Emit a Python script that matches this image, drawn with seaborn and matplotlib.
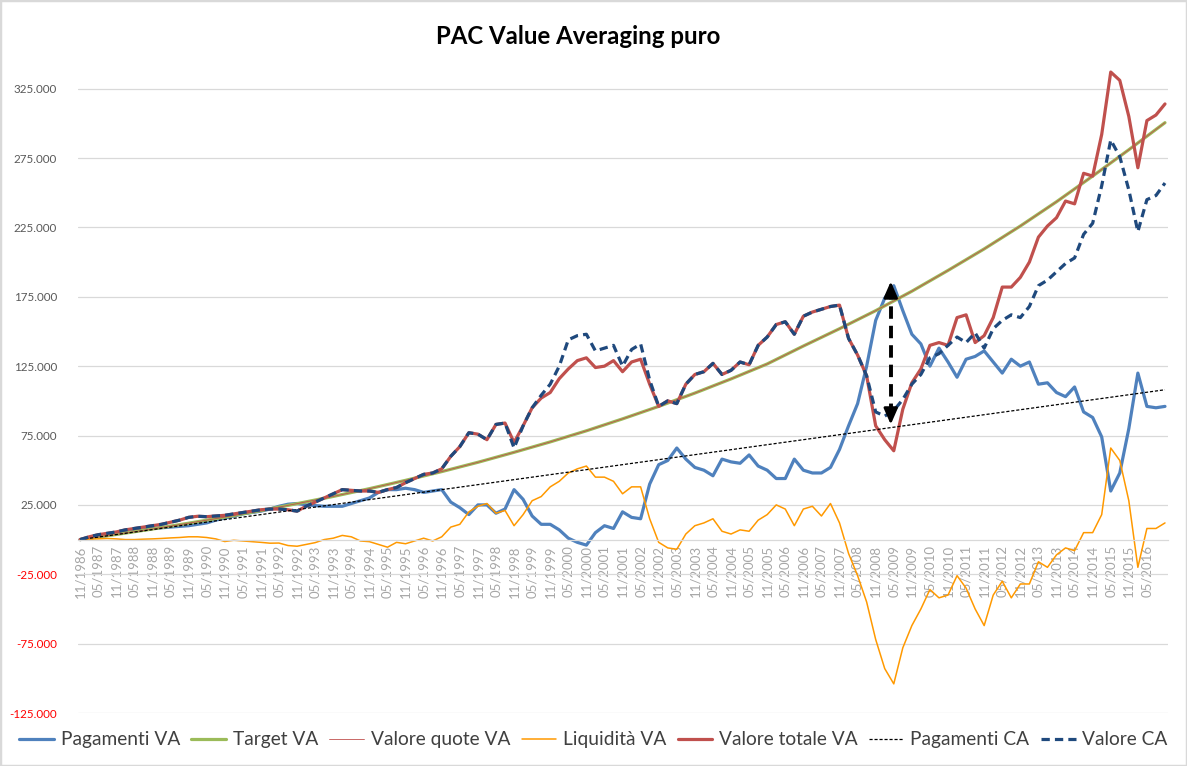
import numpy as np
import pandas as pd
import seaborn as sns
import matplotlib.pyplot as plt
from matplotlib.patches import Rectangle

# valori in migliaia di euro, un punto ogni 3 mesi a partire da 11/1986 (mese 0)
mesi = list(range(0, 361, 3))
# serie lisce: un punto all'anno
mesi_annuali = list(range(0, 361, 12))

pagamenti_va = [0, 1.0, 2.0, 3.0, 4.0, 5.0, 6.0, 7.0, 8.0, 8.5,
                9.0, 9.5, 10.0, 11.0, 12.0, 14.0, 15.5, 17.0, 18.5, 19.5,
                20.5, 22.0, 24.0, 25.5, 26.0, 25.0, 24.5, 24.0, 24.0, 24.0,
                26.0, 28.0, 30.0, 34.0, 36.0, 36.0, 37.0, 36.0, 34.0, 35.0,
                36.0, 27.0, 23.0, 18.0, 25.0, 25.0, 19.0, 22.0, 36.0, 29.0,
                17.0, 11.0, 11.0, 7.0, 1.0, -2.0, -4.0, 5.0, 10.0, 8.0,
                20.0, 16.0, 15.0, 40.0, 54.0, 57.0, 66.0, 58.0, 52.0, 50.0,
                46.0, 58.0, 56.0, 55.0, 61.0, 53.0, 50.0, 44.0, 44.0, 58.0,
                50.0, 48.0, 48.0, 52.0, 65.0, 82.0, 98.0, 125.0, 158.0, 174.0,
                183.0, 165.0, 148.0, 141.0, 125.0, 138.0, 128.0, 117.0, 130.0, 132.0,
                136.0, 128.0, 120.0, 130.0, 125.0, 128.0, 112.0, 113.0, 106.0, 103.0,
                110.0, 92.0, 88.0, 74.0, 35.0, 48.0, 80.0, 120.0, 96.0, 95.0,
                96.0]

liquidita_va = [0, 0.3, 0.5, 0.8, 0.5, 0, 0, 0.3, 0.5, 0.8,
                1.2, 1.5, 2.0, 2.0, 1.5, 0.5, -1.4, -0.5, -1.0, -1.5,
                -2.0, -2.6, -2.5, -4.3, -4.8, -3.5, -2.2, 0, 1.0, 3.0,
                2.0, -1.0, -1.5, -3.5, -5.5, -2.0, -3.0, -1.0, 1.0, -1.0,
                2.0, 9.0, 11.0, 20.0, 24.0, 26.0, 19.0, 21.0, 10.0, 18.0,
                28.0, 31.0, 38.0, 42.0, 48.0, 51.0, 53.0, 45.0, 45.0, 42.0,
                33.0, 38.0, 38.0, 15.0, -2.0, -6.0, -7.0, 4.0, 10.0, 12.0,
                15.0, 6.0, 4.0, 7.0, 6.0, 14.0, 18.0, 25.0, 22.0, 10.0,
                22.0, 24.0, 17.0, 26.0, 12.0, -10.0, -26.0, -45.0, -72.0, -93.0,
                -104.0, -78.0, -62.0, -50.0, -36.0, -42.0, -40.0, -26.0, -35.0, -50.0,
                -62.0, -40.0, -30.0, -42.0, -32.0, -32.0, -16.0, -20.0, -11.0, -6.0,
                -8.0, 5.0, 5.0, 18.0, 66.0, 57.0, 28.0, -20.0, 8.0, 8.0,
                12.0]

valore_totale_va = [0, 2.0, 3.5, 4.5, 5.5, 7.0, 8.0, 9.0, 10.0, 11.0,
                    12.5, 14.0, 16.0, 16.8, 16.5, 17.0, 17.5, 18.5, 19.5, 20.5,
                    21.5, 22.0, 22.0, 21.5, 20.5, 24.0, 27.0, 30.0, 33.0, 36.0,
                    35.5, 35.0, 35.0, 34.0, 36.0, 37.5, 41.0, 44.0, 47.0, 48.0,
                    51.0, 60.0, 67.0, 77.0, 76.0, 72.0, 83.0, 84.0, 70.0, 82.0,
                    95.0, 102.0, 106.0, 116.0, 123.0, 129.0, 131.0, 124.0, 125.0, 129.0,
                    121.0, 128.0, 130.0, 112.0, 96.0, 100.0, 98.0, 112.0, 119.0, 121.0,
                    127.0, 119.0, 122.0, 128.0, 126.0, 140.0, 146.0, 155.0, 157.0, 148.0,
                    161.0, 164.0, 166.0, 168.0, 169.0, 145.0, 133.0, 118.0, 82.0, 72.0,
                    64.0, 94.0, 113.0, 123.0, 140.0, 142.0, 140.0, 160.0, 162.0, 142.0,
                    147.0, 160.0, 182.0, 182.0, 189.0, 200.0, 218.0, 226.0, 232.0, 244.0,
                    242.0, 264.0, 262.0, 292.0, 337.0, 331.0, 305.0, 268.0, 302.0, 306.0,
                    314.0]

valore_ca = [0, 2.0, 3.5, 4.5, 5.5, 7.0, 8.0, 9.0, 10.0, 11.0,
             12.5, 14.0, 16.0, 16.8, 16.5, 17.0, 17.5, 18.5, 19.5, 20.5,
             21.5, 22.0, 22.0, 21.5, 20.5, 24.0, 27.0, 30.0, 33.0, 36.0,
             35.5, 35.0, 35.0, 34.0, 36.0, 37.5, 41.0, 44.0, 47.0, 48.0,
             51.0, 60.0, 67.0, 77.0, 76.0, 72.0, 83.0, 84.0, 66.0, 82.0,
             95.0, 104.0, 112.0, 125.0, 144.0, 147.0, 148.0, 136.0, 138.0, 140.0,
             125.0, 137.0, 141.0, 115.0, 96.0, 100.0, 98.0, 112.0, 119.0, 121.0,
             127.0, 119.0, 122.0, 128.0, 126.0, 140.0, 146.0, 155.0, 157.0, 148.0,
             161.0, 164.0, 166.0, 168.0, 169.0, 145.0, 133.0, 118.0, 92.0, 89.0,
             93.0, 101.0, 112.0, 119.0, 131.0, 134.0, 140.0, 146.0, 142.0, 149.0,
             138.0, 152.0, 158.0, 162.0, 160.0, 168.0, 183.0, 187.0, 193.0, 199.0,
             203.0, 220.0, 228.0, 255.0, 288.0, 276.0, 252.0, 222.0, 245.0, 248.0,
             257.0]

target_va = [0, 3.7, 7.6, 11.8, 16.2, 20.9, 25.9, 31.1, 36.7, 42.7,
             49.0, 55.7, 62.9, 70.4, 78.4, 87.0, 96.0, 105.6, 115.8, 126.6,
             139.5, 152.0, 165.0, 179.0, 194.0, 209.5, 226.0, 243.5, 262.0, 281.0,
             300.5]
valore_quote_va = [0, 3.7, 7.6, 11.8, 16.2, 20.9, 25.9, 31.1, 36.7, 42.7,
                   49.0, 55.7, 62.9, 70.4, 78.4, 87.0, 96.0, 105.6, 115.8, 126.6,
                   139.5, 152.0, 165.0, 179.0, 194.0, 209.5, 226.0, 243.5, 262.0, 281.0,
                   300.5]
pagamenti_ca = [0, 3.6, 7.2, 10.8, 14.4, 18.0, 21.6, 25.2, 28.8, 32.4,
                36.0, 39.6, 43.2, 46.8, 50.4, 54.0, 57.6, 61.2, 64.8, 68.4,
                72.0, 75.6, 79.2, 82.8, 86.4, 90.0, 93.6, 97.2, 100.8, 104.4,
                108.0]

# freccia tratteggiata (aprile 2009)
freccia_mese = 269
freccia_alto = 188.0
freccia_basso = 81.0

etichette_x = []
for k in range(60):
    mese_lbl = "11" if k % 2 == 0 else "05"
    etichette_x.append(f"{mese_lbl}/{1986 + (k + 1) // 2}")
tick_x = list(range(0, 360, 6))

tick_y = list(range(-125, 326, 50))

df = pd.DataFrame({
    "mese": mesi,
    "Pagamenti VA": pagamenti_va,
    "Liquidità VA": liquidita_va,
    "Valore totale VA": valore_totale_va,
    "Valore CA": valore_ca,
})
df_annuale = pd.DataFrame({
    "mese": mesi_annuali,
    "Target VA": target_va,
    "Valore quote VA": valore_quote_va,
    "Pagamenti CA": pagamenti_ca,
})

sns.set_theme(style="white")
plt.rcParams["font.family"] = ["Lato", "DejaVu Sans"]

fig = plt.figure(figsize=(11.87, 7.66), dpi=100)
ax = fig.add_axes([78 / 1187, 53 / 766, 1090 / 1187, 659 / 766])

sns.lineplot(data=df, x="mese", y="Pagamenti VA", ax=ax, color="#4f81bd", lw=2.3, label="Pagamenti VA")
sns.lineplot(data=df_annuale, x="mese", y="Target VA", ax=ax, color="#9bbb59", lw=2.3, label="Target VA")
sns.lineplot(data=df_annuale, x="mese", y="Valore quote VA", ax=ax, color="#c0504d", lw=0.6, label="Valore quote VA")
sns.lineplot(data=df, x="mese", y="Liquidità VA", ax=ax, color="#ff9900", lw=1.1, label="Liquidità VA")
sns.lineplot(data=df, x="mese", y="Valore totale VA", ax=ax, color="#c0504d", lw=2.3, label="Valore totale VA")
sns.lineplot(data=df_annuale, x="mese", y="Pagamenti CA", ax=ax, color="black", lw=0.9,
             linestyle=(0, (2.5, 1.5)), label="Pagamenti CA")
sns.lineplot(data=df, x="mese", y="Valore CA", ax=ax, color="#1f497d", lw=2.3,
             linestyle=(0, (2.6, 1.6)), label="Valore CA")

# freccia
ax.vlines(freccia_mese, freccia_basso + 8, freccia_alto - 8, colors="black", lw=2.8,
          linestyles=(0, (3.2, 1.8)), zorder=10)
ax.annotate("", xy=(freccia_mese, freccia_alto), xytext=(freccia_mese, freccia_alto - 10),
            arrowprops=dict(arrowstyle="-|>,head_length=0.8,head_width=0.35", color="black", lw=2), zorder=10)
ax.annotate("", xy=(freccia_mese, freccia_basso), xytext=(freccia_mese, freccia_basso + 10),
            arrowprops=dict(arrowstyle="-|>,head_length=0.8,head_width=0.35", color="black", lw=2), zorder=10)

ax.spines["bottom"].set_position(("data", 0))
ax.set_xlim(-0.7, 361)
ax.set_ylim(-125, 350)
ax.set_yticks(tick_y)
ax.set_yticklabels([f"{v}.000" for v in tick_y])
for lbl, v in zip(ax.get_yticklabels(), tick_y):
    lbl.set_color("#ff0000" if v < 0 else "#595959")
ax.tick_params(axis="y", length=0, pad=15, labelsize=8.4)

ax.set_xticks(tick_x)
ax.set_xticklabels(etichette_x)
ax.tick_params(axis="x", length=0, pad=4, labelsize=9.5, labelcolor="#a6a6a6", labelrotation=90)

ax.grid(axis="y", color="#d9d9d9", lw=0.9)
ax.set_axisbelow(True)
for side in ["top", "right", "left"]:
    ax.spines[side].set_visible(False)
ax.spines["bottom"].set_color("#d9d9d9")
ax.spines["bottom"].set_linewidth(0.9)
ax.set_xlabel("")
ax.set_ylabel("")

handles, labels = ax.get_legend_handles_labels()
ax.get_legend().remove()
fig.legend(handles, labels, loc="center", bbox_to_anchor=(0.500, 0.034), ncol=7, frameon=False,
           fontsize=13.8, handlelength=1.8, handletextpad=0.35, columnspacing=0.6,
           labelcolor="#404040")

fig.text(0.487, 0.952, "PAC Value Averaging puro", ha="center", va="center",
         fontsize=17.3, fontweight="bold", color="black")

fig.patches.append(Rectangle((0, 0), 1, 1, transform=fig.transFigure, fill=False,
                             edgecolor="#d9d9d9", lw=2.5))

fig.savefig("out.png", dpi=100)
